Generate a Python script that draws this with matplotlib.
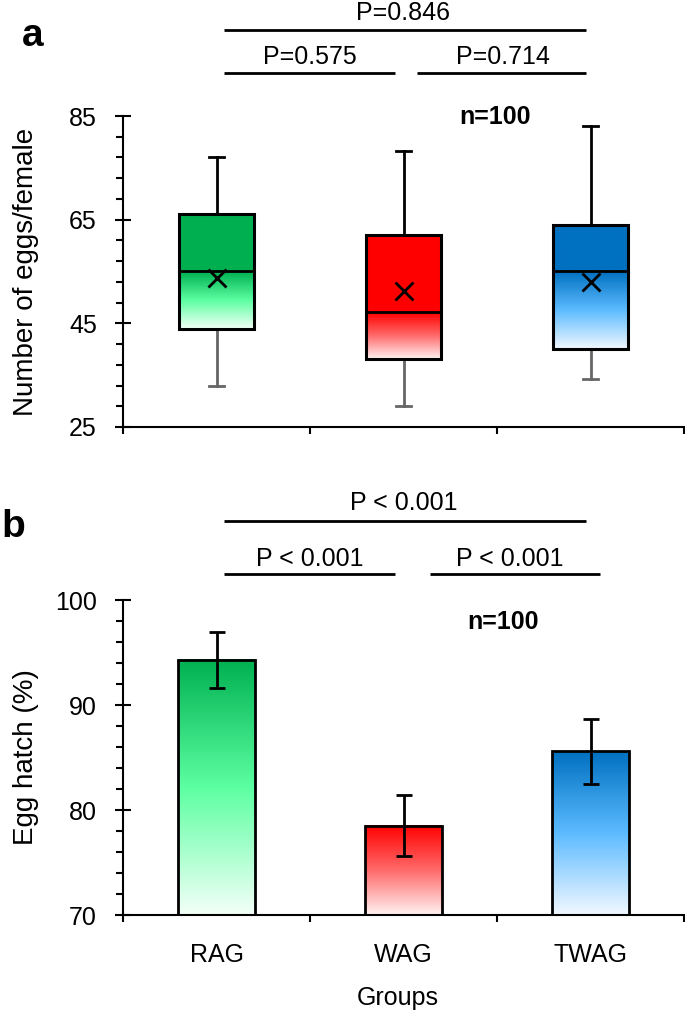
import numpy as np
import matplotlib
matplotlib.use("Agg")
import matplotlib.pyplot as plt
from matplotlib.ticker import FixedLocator, NullFormatter
from matplotlib.colors import to_rgb

plt.rcParams['font.family'] = ['Liberation Sans', 'DejaVu Sans']

# ---------------- data ----------------
groups = ["RAG", "WAG", "TWAG"]
egg_whislo = [33.0, 29.1, 34.2]
egg_q1 = [44.0, 38.1, 40.0]
egg_med = [55.0, 47.1, 55.0]
egg_q3 = [66.0, 62.1, 64.0]
egg_whishi = [77.1, 78.2, 83.1]
egg_mean = [53.7, 51.3, 52.9]

hatch_mean = [94.3, 78.5, 85.6]
hatch_err = [2.7, 2.9, 3.1]

pvals_a = ["P=0.846", "P=0.575", "P=0.714"]
pvals_b = ["P < 0.001", "P < 0.001", "P < 0.001"]

# colors (dark, mid, light) for each group
dark = ["#00B050", "#FF0000", "#0070C0"]
mid = ["#5CFFA2", "#FF6A6A", "#5CBBFF"]
light = ["#F4FFF8", "#FFF2F2", "#F2F8FF"]

# ---------------- figure ----------------
W, H = 685, 1013
fig = plt.figure(figsize=(W / 100, H / 100), dpi=100)
axL = 123 / W
axW = 561 / W
ax1 = fig.add_axes([axL, 1 - 427 / H, axW, 311 / H])
ax2 = fig.add_axes([axL, 1 - 915 / H, axW, 315 / H])

x = np.arange(len(groups))

FS_TICK = 18
FS_P = 18
FS_LAB = 20


def grad_rgb(c_top, c_mid, c_bot, n=200, solid_frac=0.0):
    """rows from bottom (index 0) to top."""
    t = np.linspace(0, 1, n)  # 0 bottom, 1 top
    ct, cm, cb = map(np.array, (to_rgb(c_top), to_rgb(c_mid), to_rgb(c_bot)))
    out = np.zeros((n, 1, 3))
    for i, v in enumerate(t):
        if v >= 1 - solid_frac:
            out[i, 0] = ct
        else:
            s = v / (1 - solid_frac) if solid_frac < 1 else 1
            if s > 0.5:
                w = (s - 0.5) / 0.5
                out[i, 0] = cm * (1 - w) + ct * w
            else:
                w = s / 0.5
                out[i, 0] = cb * (1 - w) + cm * w
    return out


def style_axes(ax):
    for s in ["top", "right"]:
        ax.spines[s].set_visible(False)
    for s in ["left", "bottom"]:
        ax.spines[s].set_linewidth(1.5)
    ax.tick_params(axis='y', which='major', direction='inout', length=11.5,
                   width=1.5, labelsize=FS_TICK, pad=13)
    ax.tick_params(axis='y', which='minor', direction='out', length=5, width=1.5)
    ax.set_xlim(-0.5, 2.5)
    ax.xaxis.set_major_locator(FixedLocator([-0.5, 0.5, 1.5, 2.5]))
    ax.xaxis.set_major_formatter(NullFormatter())
    ax.tick_params(axis='x', which='major', direction='out', length=5, width=1.5)


def sig(ax, x0, x1, y, txt, ty, tx):
    ax.plot([x0, x1], [y, y], color='black', lw=2.0, clip_on=False,
            solid_capstyle='butt')
    ax.text(tx, ty, txt, ha='center', va='baseline', fontsize=FS_P)


# ---------------- panel a: box plot ----------------
stats = []
for i in range(3):
    stats.append(dict(whislo=egg_whislo[i], q1=egg_q1[i], med=egg_med[i],
                      q3=egg_q3[i], whishi=egg_whishi[i], mean=egg_mean[i],
                      fliers=[]))
bw = 0.40
bp = ax1.bxp(stats, positions=x, widths=bw, patch_artist=True, showmeans=True,
             showfliers=False,
             boxprops=dict(facecolor='none', edgecolor='black', linewidth=2.2),
             medianprops=dict(color='black', linewidth=2.0),
             whiskerprops=dict(color='black', linewidth=2.0),
             capprops=dict(color='black', linewidth=2.0),
             meanprops=dict(marker='x', markeredgecolor='black', markersize=13,
                            markeredgewidth=2.0),
             capwidths=0.085, manage_ticks=False)
for i in range(3):
    bp['whiskers'][2 * i].set_color('#666666')
    bp['caps'][2 * i].set_color('#666666')
    for k in (2 * i, 2 * i + 1):
        bp['whiskers'][k].set_zorder(1)
        bp['caps'][k].set_zorder(1)
    bp['boxes'][i].set_zorder(3)
    bp['medians'][i].set_zorder(4)
    bp['means'][i].set_zorder(5)
    frac = (egg_q3[i] - egg_med[i]) / (egg_q3[i] - egg_q1[i])
    img = grad_rgb(dark[i], mid[i], light[i], n=400, solid_frac=frac)
    ax1.imshow(img, extent=[x[i] - bw / 2, x[i] + bw / 2, egg_q1[i], egg_q3[i]],
               origin='lower', aspect='auto', zorder=2, interpolation='bilinear')

ax1.set_ylim(25, 85)
ax1.yaxis.set_major_locator(FixedLocator([25, 45, 65, 85]))
ax1.yaxis.set_minor_locator(FixedLocator(np.arange(25, 86, 4)))
style_axes(ax1)
ax1.set_ylabel("Number of eggs/female", fontsize=FS_LAB)
ax1.yaxis.set_label_coords(-0.150, 0.5)

sig(ax1, 0.04, 1.976, 101.6, pvals_a[0], 103.6, 1.0)
sig(ax1, 0.04, 0.955, 93.3, pvals_a[1], 95.0, 0.5)
sig(ax1, 1.07, 1.976, 93.3, pvals_a[2], 95.0, 1.53)
ax1.text(1.49, 84.8, "n=100", ha='center', va='center', fontsize=FS_P,
         fontweight='bold')

# ---------------- panel b: bars ----------------
barw = 0.41
bars = ax2.bar(x, [m - 70 for m in hatch_mean], bottom=70, width=barw,
               facecolor='none', edgecolor='black', linewidth=2.0, zorder=3)
for i, b in enumerate(bars):
    img = grad_rgb(dark[i], mid[i], light[i], n=400, solid_frac=0.0)
    ax2.imshow(img, extent=[x[i] - barw / 2, x[i] + barw / 2, 70, hatch_mean[i]],
               origin='lower', aspect='auto', zorder=2, interpolation='bilinear')
ax2.errorbar(x, hatch_mean, yerr=hatch_err, fmt='none', ecolor='black',
             elinewidth=2.0, capsize=6, capthick=2.0, zorder=4)
ax2.set_ylim(70, 100)
ax2.yaxis.set_major_locator(FixedLocator([70, 80, 90, 100]))
ax2.yaxis.set_minor_locator(FixedLocator(np.arange(70, 101, 2)))
style_axes(ax2)
ax2.xaxis.set_minor_locator(FixedLocator(x))
ax2.set_xticks(x, groups, minor=True)
ax2.tick_params(axis='x', which='minor', length=0, labelsize=FS_TICK, pad=20)
ax2.set_ylabel("Egg hatch (%)", fontsize=FS_LAB)
ax2.yaxis.set_label_coords(-0.150, 0.5)
ax2.set_xlabel("Groups", fontsize=FS_TICK)
ax2.xaxis.set_label_coords(0.49, -0.225)

sig(ax2, 0.04, 1.976, 107.5, pvals_b[0], 108.6, 1.0)
sig(ax2, 0.04, 0.955, 102.5, pvals_b[1], 103.2, 0.5)
sig(ax2, 1.14, 2.05, 102.5, pvals_b[2], 103.2, 1.57)
ax2.text(1.53, 97.9, "n=100", ha='center', va='center', fontsize=FS_P,
         fontweight='bold')

ax1.set_xlim(-0.5, 2.5)
ax2.set_xlim(-0.5, 2.5)

fig.text(33 / W, 1 - 36 / H, "a", fontsize=28, fontweight='bold',
         ha='center', va='center')
fig.text(13 / W, 1 - 527 / H, "b", fontsize=28, fontweight='bold',
         ha='center', va='center')

fig.savefig("out.png", dpi=100)
